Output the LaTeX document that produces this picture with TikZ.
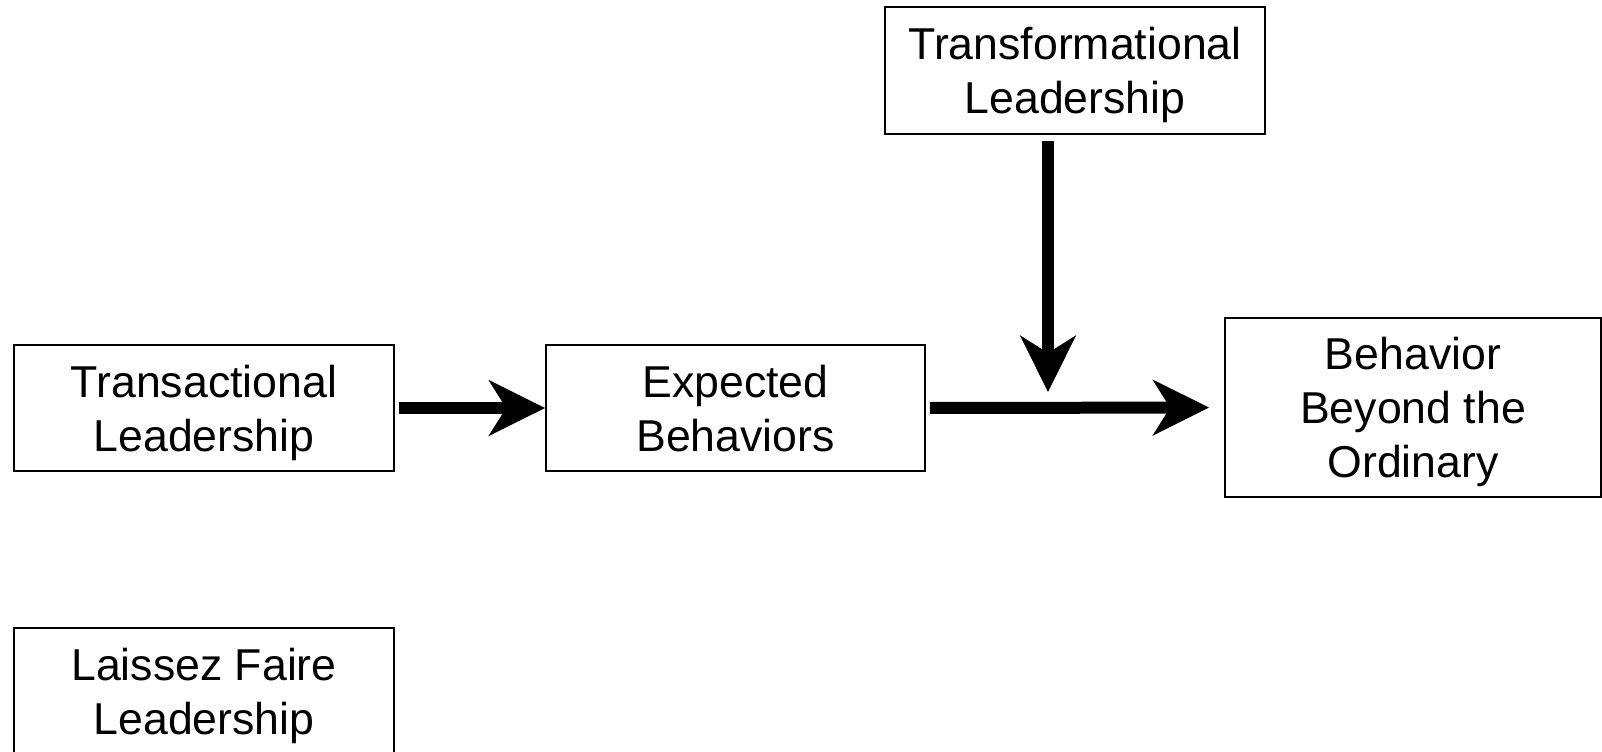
\documentclass[tikz,border=0pt]{standalone}
\usepackage{fontspec}
\setmainfont{Liberation Sans}
\usetikzlibrary{arrows.meta}

\begin{document}
\begin{tikzpicture}[x=0.02cm,y=-0.02cm,
    box/.style={draw,line width=1pt,align=center,inner sep=0pt,text depth=0pt,font=\fontsize{25.4}{30.7}\selectfont},
    arr/.style={line width=0.24cm,-{Stealth[length=1.12cm,width=1.1cm,inset=0.34cm]}}]
  \useasboundingbox (0,0) rectangle (1602,751);
  \node[box,minimum width=7.6cm,minimum height=2.54cm] (transf) at (1075,70.5) {Transformational\\Leadership};
  \node[box,minimum width=7.6cm,minimum height=2.52cm] (transa) at (204,408) {Transactional\\Leadership};
  \node[box,minimum width=7.58cm,minimum height=2.52cm] (expect) at (735.5,408) {Expected\\Behaviors};
  \node[box,minimum width=7.52cm,minimum height=3.58cm] (beyond) at (1413,407.5) {Behavior\\Beyond the\\Ordinary};
  \node[box,minimum width=7.6cm,minimum height=2.52cm] (laissez) at (204,691) {Laissez Faire\\Leadership};
  \coordinate (meet) at (1048,392);
  \draw[arr,shorten <=0.08cm] (transa.east) -- (expect.west);
  \draw[arr,shorten <=0.08cm,shorten >=0.3cm] (expect.east) -- (beyond.west);
  \draw[arr,shorten <=0.12cm] (transf.south -| meet) -- (meet);
\end{tikzpicture}
\end{document}
